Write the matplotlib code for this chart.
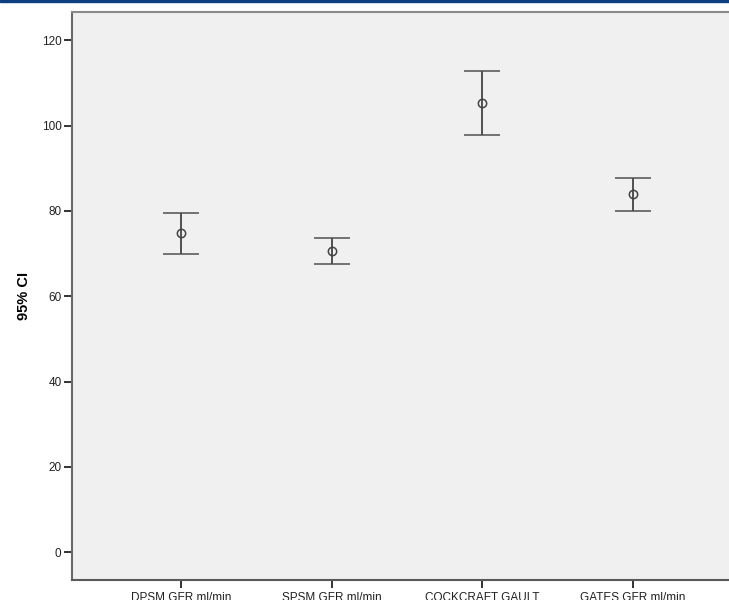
import matplotlib.pyplot as plt
from matplotlib.patches import Rectangle

plt.rcParams['font.family'] = ['Liberation Sans', 'DejaVu Sans']

# 95% confidence intervals of GFR estimates (ml/min)
metodos = ['DPSM GFR ml/min', 'SPSM GFR ml/min', 'COCKCRAFT GAULT', 'GATES GFR ml/min']
medias = [74.7, 70.6, 105.3, 83.9]
limite_inf = [70.0, 67.5, 97.8, 80.0]
limite_sup = [79.4, 73.7, 112.7, 87.8]

fig = plt.figure(figsize=(7.29, 6.0), dpi=100)
# franja azul superior
fig.patches.append(Rectangle((0, 598 / 600), 1, 2 / 600, transform=fig.transFigure,
                             color='#0b3f7f', zorder=0))

ax = fig.add_axes([72 / 729, 20 / 600, 668 / 729, 568 / 600])
ax.set_facecolor('#f0f0f0')

x = list(range(len(metodos)))
err_abajo = [m - l for m, l in zip(medias, limite_inf)]
err_arriba = [u - m for m, u in zip(medias, limite_sup)]
ax.errorbar(x, medias, yerr=[err_abajo, err_arriba], fmt='o', mfc='none', mec='#444444',
            ms=6, mew=1.1, ecolor='#505050', elinewidth=1.4, capsize=13, capthick=1.6)

ax.set_xlim(-0.724, 3.712)
ax.set_ylim(-6.5, 126.6)
ax.set_yticks([0, 20, 40, 60, 80, 100, 120])
ax.set_xticks(x)
ax.set_xticklabels(metodos)

ax.spines['right'].set_visible(False)
ax.spines['left'].set_color('#6a6a6a')
ax.spines['top'].set_color('#8a8a8a')
ax.spines['bottom'].set_color('#5a5a5a')
for lado in ['left', 'top', 'bottom']:
    ax.spines[lado].set_linewidth(1.5)

ax.tick_params(axis='both', direction='out', length=6, width=1.3, color='#222222',
               labelsize=8.5, labelcolor='#222222', pad=1.5)
ax.tick_params(axis='x', pad=2.5)
ax.set_ylabel('95% CI', fontsize=10.5, fontweight='bold', labelpad=8)

fig.savefig('out.png', dpi=100)
